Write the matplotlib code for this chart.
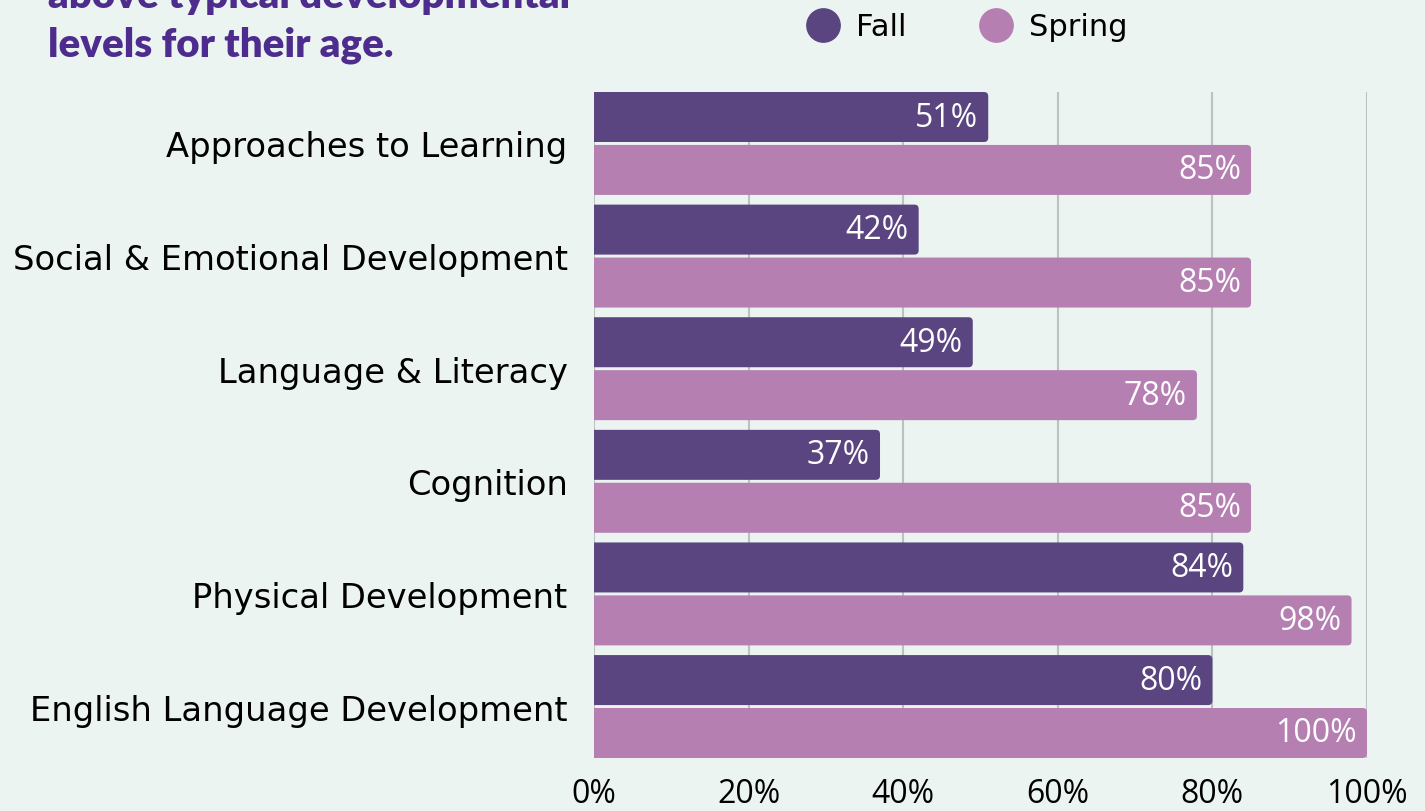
import matplotlib.pyplot as plt
import numpy as np
from matplotlib.lines import Line2D
from matplotlib.patches import FancyBboxPatch

# Data
categories = ['Approaches to Learning', 'Social & Emotional Development', 'Language & Literacy',
              'Cognition', 'Physical Development', 'English Language Development']
fall = [51, 42, 49, 37, 84, 80]
spring = [85, 85, 78, 85, 98, 100]
x_ticks = [0, 20, 40, 60, 80, 100]

bg = '#ECF4F2'
fall_color = '#5A4581'
spring_color = '#B57FB2'
title_color = '#4E2C8E'

plt.rcParams['font.family'] = ['Open Sans', 'DejaVu Sans']

fig = plt.figure(figsize=(14.25, 8.12), dpi=100, facecolor=bg)
ax = fig.add_axes([594 / 1425, 53 / 812, 773 / 1425, 666 / 812], facecolor=bg)

y = np.arange(len(categories))
h = 0.444
off = 0.235
ax.set_xlim(0, 100)
ax.set_ylim(5 + off + h / 2, -off - h / 2)

# x data units per pixel vs y data units per pixel, for round corners
aspect = (1 / 112.6) / (100 / 773)
bars_f = ax.barh(y - off, fall, height=h, color=fall_color, zorder=3)
bars_s = ax.barh(y + off, spring, height=h, color=spring_color, zorder=3)

for bars, vals in [(bars_f, fall), (bars_s, spring)]:
    for b, v in zip(bars, vals):
        b.set_visible(False)
        p = FancyBboxPatch((-2, b.get_y()), v + 2, b.get_height(),
                           boxstyle='round,pad=0,rounding_size=0.55', mutation_aspect=aspect,
                           facecolor=b.get_facecolor(), edgecolor='none', zorder=3)
        ax.add_patch(p)
        ax.text(v - 1.3, b.get_y() + b.get_height() / 2, f'{v}%', ha='right', va='center',
                color='white', fontsize=23, zorder=4)

ax.set_yticks(y)
ax.set_yticklabels(categories, fontsize=24.3, family='DejaVu Sans')
ax.set_xticks(x_ticks)
ax.set_xticklabels([f'{t}%' for t in x_ticks], fontsize=23)
ax.tick_params(axis='y', length=0, pad=19)
ax.tick_params(axis='x', length=0, pad=14)
ax.grid(axis='x', color='#BCC2C2', linewidth=1.5, zorder=0)
for s in ax.spines.values():
    s.set_visible(False)

handles = [Line2D([], [], marker='o', linestyle='none', markersize=24, color=fall_color),
           Line2D([], [], marker='o', linestyle='none', markersize=24, color=spring_color)]
fig.legend(handles, ['Fall', 'Spring'], loc='center', bbox_to_anchor=(960 / 1425, 1 - 28 / 812),
           ncol=2, frameon=False, handletextpad=0.1, columnspacing=1.9,
           prop={'family': 'DejaVu Sans', 'size': 22})

title_font = ['Lato', 'DejaVu Sans']
fig.text(48 / 1425, 1 - 8 / 812, 'above typical developmental', fontsize=29, fontweight='heavy',
         color=title_color, ha='left', va='baseline', family=title_font)
fig.text(48 / 1425, 1 - 57 / 812, 'levels for their age.', fontsize=29, fontweight='heavy',
         color=title_color, ha='left', va='baseline', family=title_font)

fig.savefig('out.png', dpi=100, facecolor=bg)
